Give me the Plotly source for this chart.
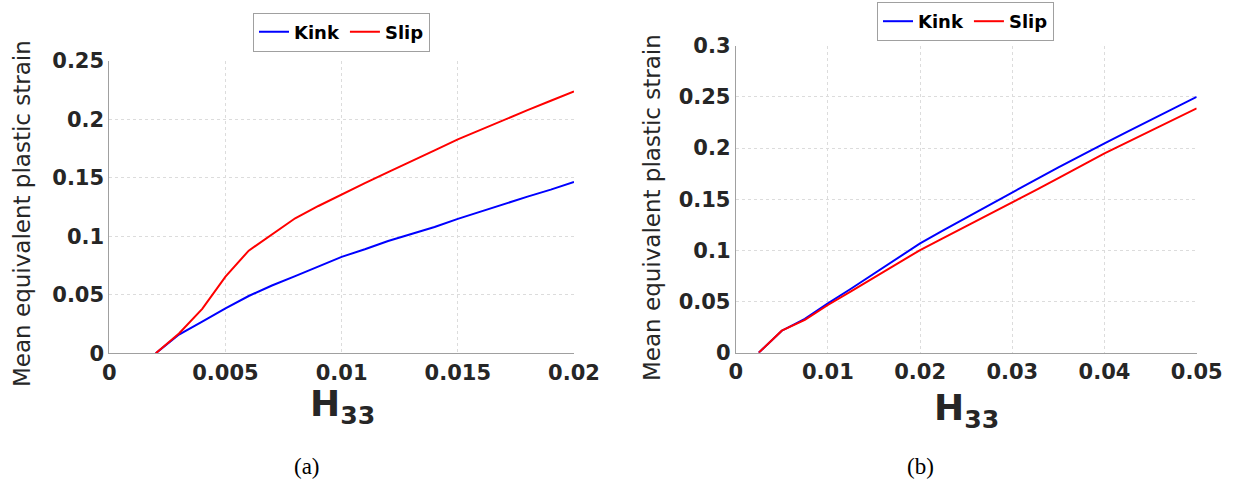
import plotly.graph_objects as go

# ---------------- data ----------------
# panel (a)
h33_a = [0.002, 0.003, 0.004, 0.005, 0.006, 0.007, 0.008, 0.009, 0.010, 0.011,
         0.012, 0.013, 0.014, 0.015, 0.016, 0.017, 0.018, 0.019, 0.020]
kink_a = [0.0, 0.016, 0.027, 0.0385, 0.049, 0.058, 0.066, 0.074, 0.0825, 0.089,
          0.096, 0.102, 0.108, 0.115, 0.1215, 0.128, 0.134, 0.140, 0.1465]
slip_a = [0.0, 0.017, 0.038, 0.0656, 0.0878, 0.102, 0.1155, 0.126, 0.1354, 0.1455,
          0.155, 0.164, 0.1735, 0.183, 0.1915, 0.200, 0.208, 0.216, 0.224]

# panel (b)
h33_b = [0.0025, 0.005, 0.0075, 0.010, 0.0125, 0.015, 0.0175, 0.020, 0.0225, 0.025,
         0.0275, 0.030, 0.0325, 0.035, 0.0375, 0.040, 0.0425, 0.045, 0.0475, 0.050]
kink_b = [0.0, 0.0215, 0.033, 0.0482, 0.0625, 0.077, 0.092, 0.1068, 0.1195, 0.132,
          0.1445, 0.1567, 0.169, 0.181, 0.193, 0.2046, 0.216, 0.2275, 0.239, 0.250]
slip_b = [0.0, 0.0215, 0.032, 0.0466, 0.060, 0.0735, 0.087, 0.1003, 0.112, 0.1235,
          0.135, 0.1466, 0.1587, 0.1707, 0.1828, 0.1948, 0.2058, 0.2168, 0.2278, 0.2388]

# ticks
xt_a = [0, 0.005, 0.01, 0.015, 0.02]
xt_a_lbl = ["0", "0.005", "0.01", "0.015", "0.02"]
yt_a = [0, 0.05, 0.1, 0.15, 0.2, 0.25]
yt_a_lbl = ["0", "0.05", "0.1", "0.15", "0.2", "0.25"]
xt_b = [0, 0.01, 0.02, 0.03, 0.04, 0.05]
xt_b_lbl = ["0", "0.01", "0.02", "0.03", "0.04", "0.05"]
yt_b = [0, 0.05, 0.1, 0.15, 0.2, 0.25, 0.3]
yt_b_lbl = ["0", "0.05", "0.1", "0.15", "0.2", "0.25", "0.3"]

series_names = ["Kink", "Slip"]
colors = ["#0000ff", "#ff0000"]

W, H = 1233, 491
OFF = 0  # page body margin removed via post_script
TXT = "#262626"

def px(x):
    return (x - OFF) / W

def py(y):
    return 1 - (y - OFF) / H

fig = go.Figure()
fig.add_trace(go.Scatter(x=h33_a, y=kink_a, mode="lines", name=series_names[0],
                         line=dict(color=colors[0], width=2), xaxis="x", yaxis="y", legend="legend"))
fig.add_trace(go.Scatter(x=h33_a, y=slip_a, mode="lines", name=series_names[1],
                         line=dict(color=colors[1], width=2), xaxis="x", yaxis="y", legend="legend"))
fig.add_trace(go.Scatter(x=h33_b, y=kink_b, mode="lines", name=series_names[0],
                         line=dict(color=colors[0], width=2), xaxis="x2", yaxis="y2", legend="legend2"))
fig.add_trace(go.Scatter(x=h33_b, y=slip_b, mode="lines", name=series_names[1],
                         line=dict(color=colors[1], width=2), xaxis="x2", yaxis="y2", legend="legend2"))

tickfont = dict(family="DejaVu Sans", size=21, color=TXT, weight="bold")

def axis(domain, rng, tv, tt, anchor):
    return dict(domain=domain, range=rng, tickvals=tv, ticktext=tt, anchor=anchor,
                showline=True, linecolor="#a0a0a0", linewidth=1,
                showgrid=True, gridcolor="#dcdcdc", griddash="dot", gridwidth=1,
                zeroline=False, ticks="", tickfont=tickfont, mirror=False,
                automargin=False)

pa = dict(x0=109.3, x1=574, y0=61, y1=353.3)
pb = dict(x0=735.7, x1=1196.7, y0=45.7, y1=352.7)

def dom_x(p):
    return [px(p["x0"]), px(p["x1"])]

def dom_y(p):
    return [py(p["y1"]), py(p["y0"])]

legfont = dict(family="DejaVu Sans", size=18, color="#000000", weight="bold")

fig.update_layout(
    width=W, height=H,
    margin=dict(l=0, r=0, t=0, b=0, autoexpand=False),
    paper_bgcolor="white", plot_bgcolor="white",
    xaxis=axis(dom_x(pa), [0, 0.02], xt_a, xt_a_lbl, "y"),
    yaxis=axis(dom_y(pa), [0, 0.25], yt_a, yt_a_lbl, "x"),
    xaxis2=axis(dom_x(pb), [0, 0.05], xt_b, xt_b_lbl, "y2"),
    yaxis2=axis(dom_y(pb), [0, 0.3], yt_b, yt_b_lbl, "x2"),
    legend=dict(orientation="h", x=px(341.5), xanchor="center", y=py(32), yanchor="middle",
                bordercolor="#a0a0a0", borderwidth=1, bgcolor="white", font=legfont,
                itemwidth=30, tracegroupgap=0),
    legend2=dict(orientation="h", x=px(965.5), xanchor="center", y=py(2), yanchor="top",
                 bordercolor="#a0a0a0", borderwidth=1, bgcolor="white", font=legfont,
                 itemwidth=30, tracegroupgap=0),
    showlegend=True,
)

ann = []
ytitle = "Mean equivalent plastic strain"

def add_text(x, y, text, size, family="DejaVu Sans", color=TXT, angle=0):
    ann.append(dict(x=px(x), y=py(y), xref="paper", yref="paper", text=text, textangle=angle,
                    xanchor="center", yanchor="middle", showarrow=False,
                    font=dict(family=family, size=size, color=color)))

add_text(22, 214, ytitle, 23, angle=-90)
add_text(652, 207, ytitle, 23, angle=-90)
add_text(343, 406, "<b>H<sub>33</sub></b>", 36)
add_text(966, 410, "<b>H<sub>33</sub></b>", 36)
add_text(307, 466, "(a)", 23, family="Liberation Serif", color="#000000")
add_text(920, 466, "(b)", 23, family="Liberation Serif", color="#000000")
fig.update_layout(annotations=ann)

fig.write_html("out.html", config={"displayModeBar": False},
               post_script="document.body.style.margin='0px';")
